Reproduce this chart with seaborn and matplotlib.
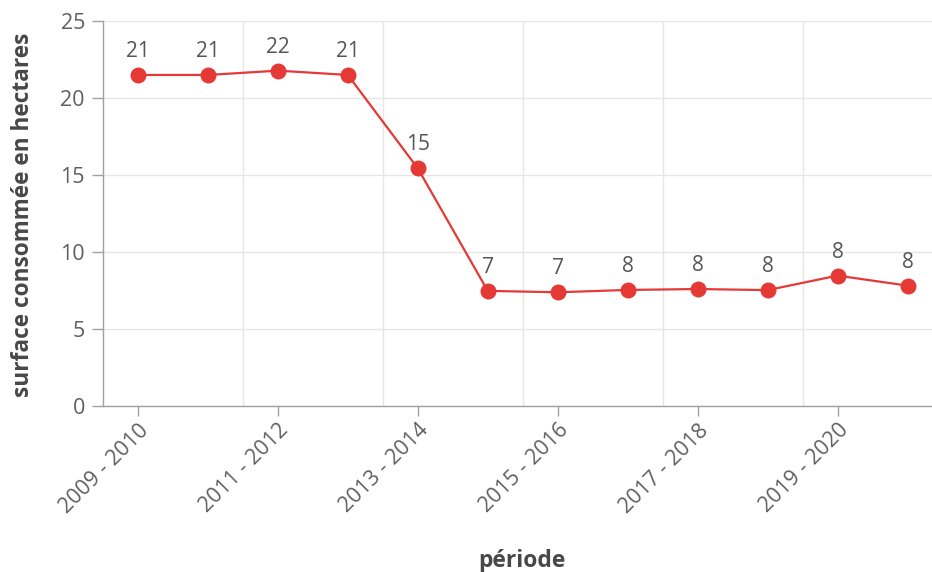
import matplotlib
matplotlib.use("Agg")
import matplotlib.pyplot as plt
from matplotlib.ticker import FixedLocator
import seaborn as sns
import pandas as pd

# data
periods = ['2009 - 2010', '2010 - 2011', '2011 - 2012', '2012 - 2013',
           '2013 - 2014', '2014 - 2015', '2015 - 2016', '2016 - 2017',
           '2017 - 2018', '2018 - 2019', '2019 - 2020', '2020 - 2021']
surface = [21.48, 21.48, 21.76, 21.48, 15.42, 7.47, 7.38, 7.53, 7.59, 7.52, 8.46, 7.81]

df = pd.DataFrame({'période': periods, 'surface': surface})

sns.set_theme(style='white')
plt.rcParams['font.family'] = ['Open Sans', 'DejaVu Sans']

red = '#e53935'
grid_col = '#e6e6e6'
axis_col = '#a0a0a0'
text_col = '#606060'

fig = plt.figure(figsize=(9.32, 5.72), dpi=100)
ax = fig.add_axes([0.1105, 0.2902, 0.8895, 0.6736])

sns.lineplot(data=df, x='période', y='surface', ax=ax, color=red, linewidth=1.6,
             marker='o', markersize=11.5, markeredgewidth=0, sort=False, zorder=3)

# value labels above each point
for i, v in enumerate(surface):
    ax.annotate(f'{v:.0f}', (i, v), xytext=(0, 17), textcoords='offset points',
                ha='center', va='center', fontsize=15, color='#555555', zorder=4)

ax.set_xlim(-0.5, 11.35)
ax.set_ylim(0, 25)
ax.set_yticks([0, 5, 10, 15, 20, 25])

ax.set_xticks(list(range(0, len(periods), 2)))
ax.set_xticklabels(periods[::2], rotation=45, ha='right', rotation_mode='anchor')
ax.xaxis.set_minor_locator(FixedLocator([1.5, 3.5, 5.5, 7.5, 9.5]))

ax.grid(False)
ax.grid(True, axis='y', which='major', color=grid_col, linewidth=1)
ax.grid(True, axis='x', which='minor', color=grid_col, linewidth=1)
ax.set_axisbelow(True)

for s in ['top', 'right']:
    ax.spines[s].set_visible(False)
for s in ['left', 'bottom']:
    ax.spines[s].set_color(axis_col)
    ax.spines[s].set_linewidth(1)

ax.tick_params(axis='y', which='major', length=8, width=1, color=axis_col,
               labelsize=15.5, labelcolor=text_col, pad=5, left=True)
ax.tick_params(axis='x', which='major', length=7, width=1, color=axis_col,
               labelsize=15.5, labelcolor=text_col, pad=3, bottom=True)
ax.tick_params(axis='x', which='minor', length=0)

ax.set_xlabel('période', fontsize=16.5, fontweight='bold', color='#484848')
ax.set_ylabel('surface consommée en hectares', fontsize=16.3, fontweight='bold',
              color='#484848')
ax.xaxis.set_label_coords(0.505, -0.372)
ax.yaxis.set_label_coords(-0.082, 0.496)

fig.savefig('out.png', dpi=100, facecolor='white')
